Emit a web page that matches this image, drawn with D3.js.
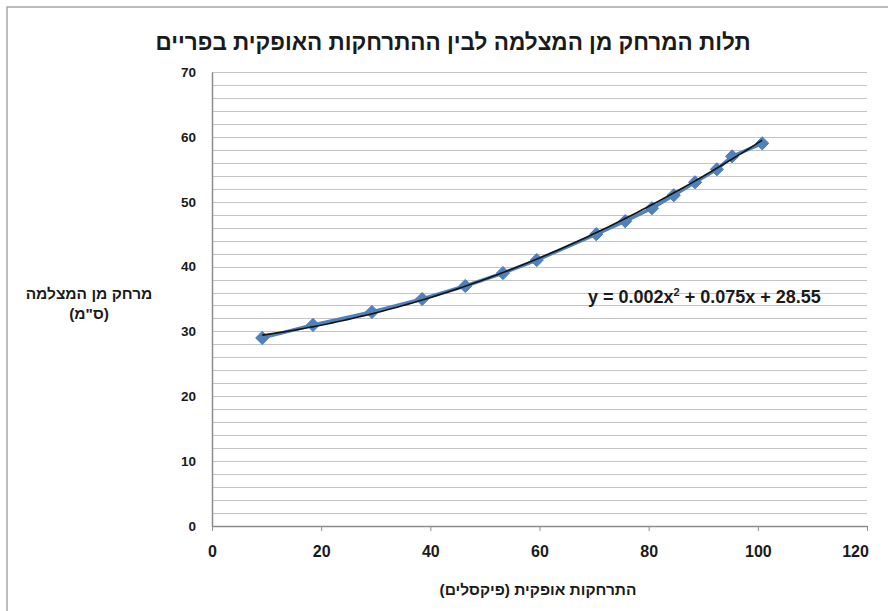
<!DOCTYPE html>
<html>
<head>
<meta charset="utf-8">
<script src="https://cdn.jsdelivr.net/npm/d3@7"></script>
<style>
  html, body { margin: 0; padding: 0; background: #fff; }
  svg { display: block; }
  .heb { direction: rtl; unicode-bidi: embed; }
</style>
</head>
<body>
<svg id="chart" width="888" height="611"></svg>
<script>
// Horizontal offset in the image (pixels) vs. distance from the camera (cm)
const offsetPx   = [9.2, 18.5, 29.3, 38.5, 46.4, 53.3, 59.5, 70.4, 75.7, 80.6, 84.6, 88.5, 92.5, 95.3, 100.8];
const distanceCm = [29, 31, 33, 35, 37, 39, 41, 45, 47, 49, 51, 53, 55, 57, 59];

// Polynomial trendline coefficients: a·x² + b·x + c
const trendCoef = [0.0023, 0.075, 28.55];

const xTicks = [0, 20, 40, 60, 80, 100, 120];
const yTicks = [0, 10, 20, 30, 40, 50, 60, 70];
const yGrid  = d3.range(2, 71, 2);

const titleText  = "תלות המרחק מן המצלמה לבין ההתרחקות האופקית בפריים";
const xTitleText = "התרחקות אופקית (פיקסלים)";
const yTitleLines = ["מרחק מן המצלמה", "(ס\"מ)"];

const svg = d3.select("#chart");
const plot = { left: 212, right: 867, top: 72, bottom: 526 };

const x = d3.scaleLinear().domain([0, 120]).range([plot.left, plot.right]);
const y = d3.scaleLinear().domain([0, 70]).range([plot.bottom, plot.top]);

// chart frame
svg.append("rect")
  .attr("x", 7).attr("y", 7).attr("width", 900).attr("height", 620)
  .attr("fill", "#fff").attr("stroke", "#a6a6a6").attr("stroke-width", 1.5);

// title
svg.append("text")
  .attr("class", "heb")
  .attr("x", 453).attr("y", 50)
  .attr("text-anchor", "middle")
  .attr("font-family", "'Liberation Sans', Arial, sans-serif")
  .attr("font-weight", "bold")
  .attr("font-size", 22.5)
  .attr("fill", "#1a1a1a")
  .text(titleText);

// horizontal gridlines
svg.append("g")
  .selectAll("line")
  .data(yGrid)
  .join("line")
  .attr("x1", plot.left).attr("x2", plot.right)
  .attr("y1", d => Math.round(y(d)) + 0.5).attr("y2", d => Math.round(y(d)) + 0.5)
  .attr("stroke", "#c4c4c4").attr("stroke-width", 1.2);

// y axis
const yAxis = svg.append("g")
  .attr("transform", `translate(${plot.left},0)`)
  .call(d3.axisLeft(y).tickValues(yTicks).tickSize(0).tickPadding(16).tickFormat(d3.format("d")));
yAxis.select(".domain").attr("stroke", "#8c8c8c").attr("stroke-width", 1.5);
yAxis.selectAll("text")
  .attr("font-family", "'Liberation Sans', Arial, sans-serif")
  .attr("font-weight", "bold").attr("font-size", 13.5).attr("fill", "#1a1a1a");

// x axis
const xAxis = svg.append("g")
  .attr("transform", `translate(0,${plot.bottom})`)
  .call(d3.axisBottom(x).tickValues(xTicks).tickSizeInner(5).tickSizeOuter(0).tickPadding(15).tickFormat(d3.format("d")));
xAxis.select(".domain").attr("stroke", "#8c8c8c").attr("stroke-width", 1.5);
xAxis.selectAll(".tick line").attr("stroke", "#8c8c8c");
xAxis.selectAll("text")
  .attr("font-family", "'Liberation Sans', Arial, sans-serif")
  .attr("font-weight", "bold")
  .attr("font-size", 16).attr("fill", "#1a1a1a");
// keep the last label inside the frame
xAxis.selectAll(".tick").filter(d => d === 120).select("text").attr("dx", -12);

// axis titles
svg.append("text")
  .attr("class", "heb")
  .attr("x", 538).attr("y", 595)
  .attr("text-anchor", "middle")
  .attr("font-family", "'Liberation Sans', Arial, sans-serif")
  .attr("font-weight", "bold").attr("font-size", 15.5).attr("fill", "#1a1a1a")
  .text(xTitleText);

svg.append("g").selectAll("text")
  .data(yTitleLines)
  .join("text")
  .attr("class", "heb")
  .attr("x", 89).attr("y", (d, i) => 299 + i * 20)
  .attr("text-anchor", "middle")
  .attr("font-family", "'Liberation Sans', Arial, sans-serif")
  .attr("font-weight", "bold").attr("font-size", 15.5).attr("fill", "#1a1a1a")
  .text(d => d);

// data series: line + diamond markers
const pts = offsetPx.map((v, i) => ({ x: v, y: distanceCm[i] }));
const line = d3.line().x(d => x(d.x)).y(d => y(d.y));

svg.append("path")
  .datum(pts)
  .attr("d", line)
  .attr("fill", "none")
  .attr("stroke", "#4f81bd")
  .attr("stroke-width", 3.5)
  .attr("stroke-linejoin", "round");

svg.append("g").selectAll("path")
  .data(pts)
  .join("path")
  .attr("transform", d => `translate(${x(d.x)},${y(d.y)})`)
  .attr("d", d3.symbol().type(d3.symbolDiamond2).size(110))
  .attr("fill", "#4f81bd")
  .attr("stroke", "#4a7ab5").attr("stroke-width", 1);

// polynomial trendline over the data range
const [a, b, c] = trendCoef;
const poly = v => a * v * v + b * v + c;
const xExt = d3.extent(offsetPx);
const trendPts = d3.range(0, 101).map(i => {
  const v = xExt[0] + (xExt[1] - xExt[0]) * i / 100;
  return { x: v, y: poly(v) };
});
svg.append("path")
  .datum(trendPts)
  .attr("d", line)
  .attr("fill", "none")
  .attr("stroke", "#141414")
  .attr("stroke-width", 1.6);

// trendline equation
const eq = svg.append("text")
  .attr("x", 588).attr("y", 303)
  .attr("font-family", "'Liberation Sans', Arial, sans-serif")
  .attr("font-weight", "bold").attr("font-size", 18).attr("fill", "#1a1a1a");
eq.append("tspan").text(`y = ${d3.format(".3f")(a)}x`);
eq.append("tspan").attr("font-size", 11).attr("dy", -7).text("2");
eq.append("tspan").attr("dy", 7).text(` + ${d3.format(".3f")(b)}x + ${d3.format(".2f")(c)}`);
</script>
</body>
</html>
